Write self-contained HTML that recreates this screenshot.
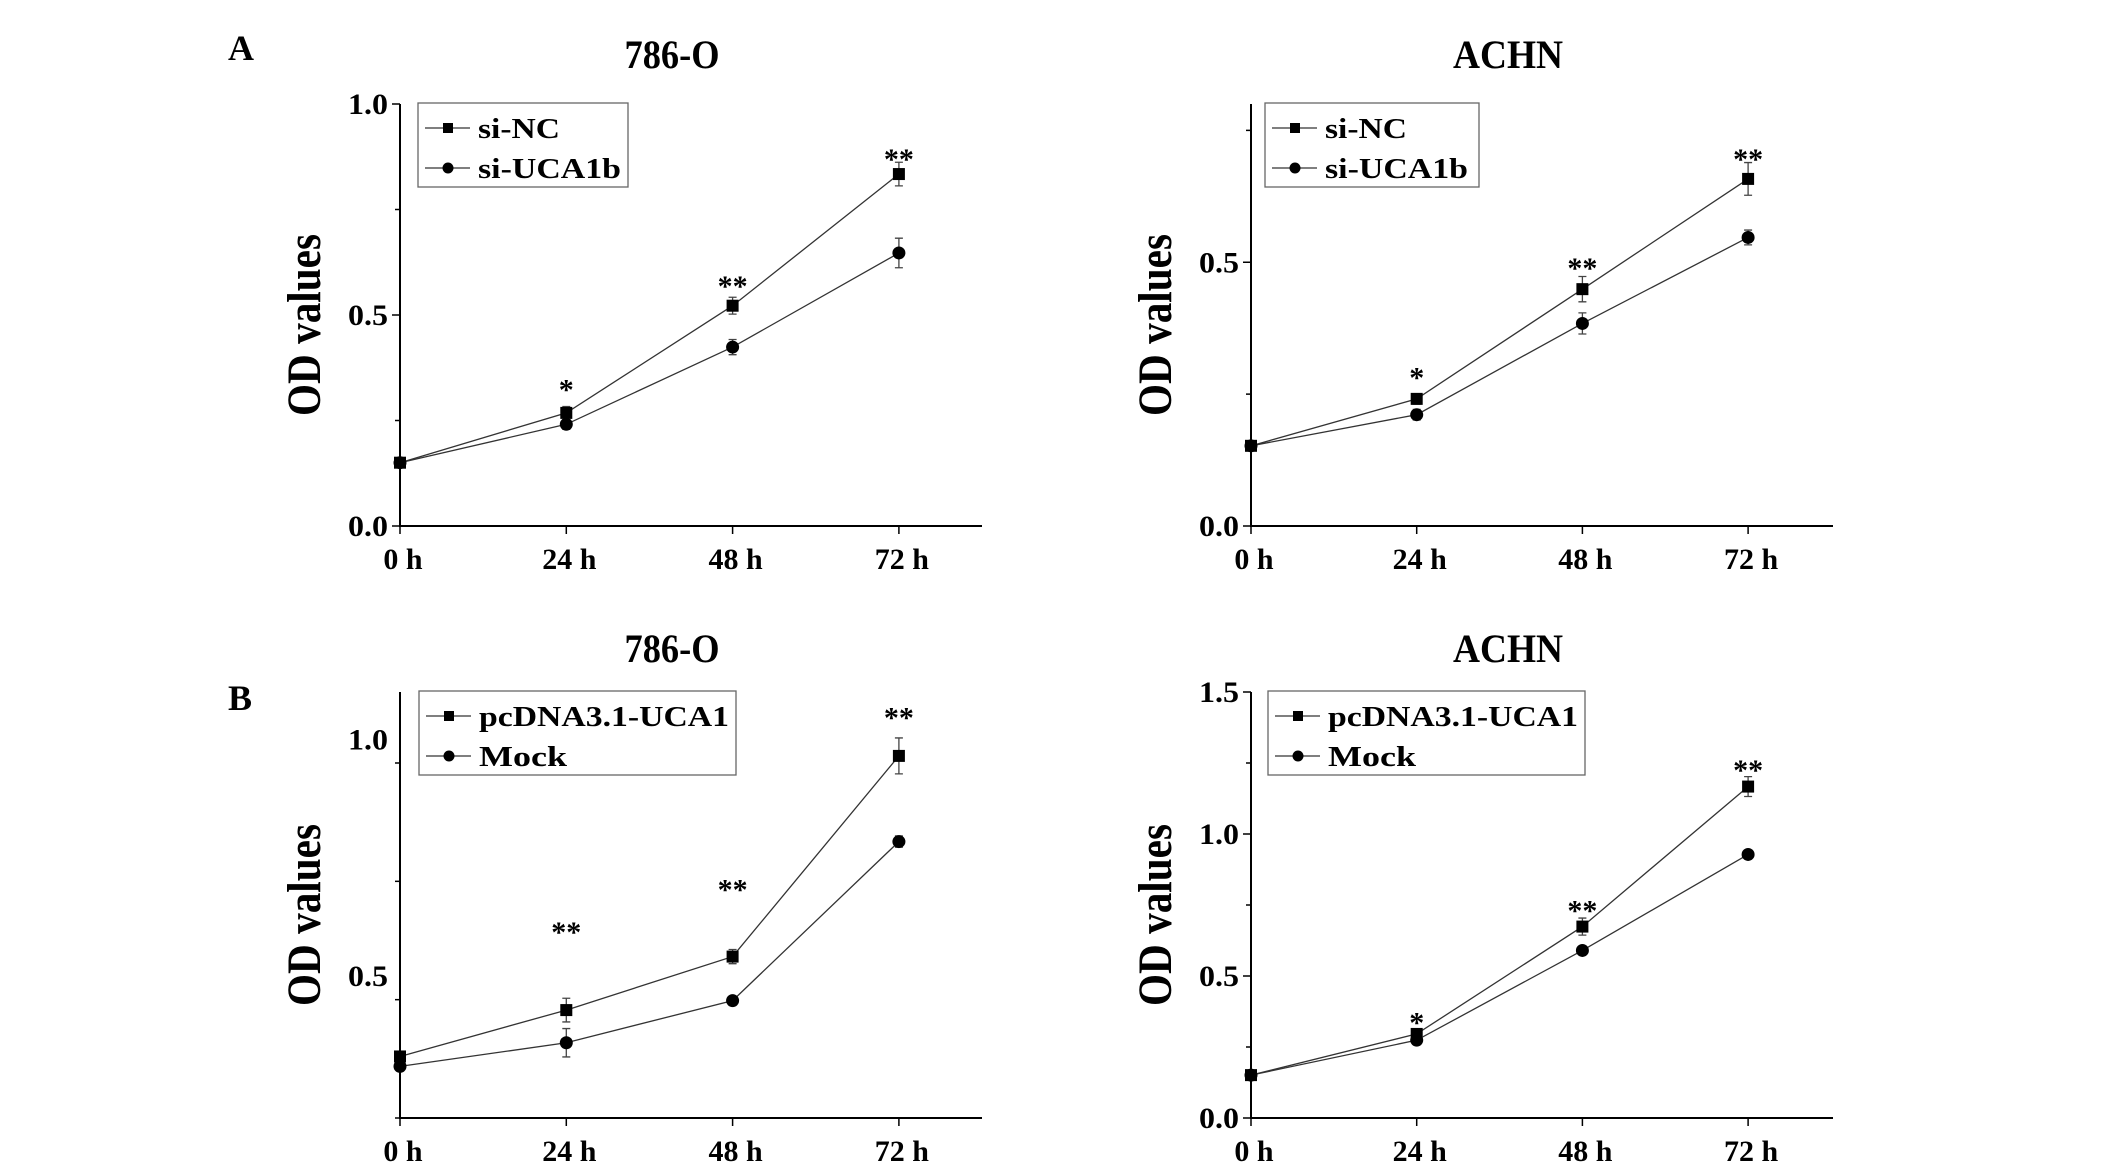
<!DOCTYPE html>
<html><head><meta charset="utf-8"><style>
html,body{margin:0;padding:0;background:#fff;}
svg{display:block;font-family:"Liberation Serif",serif;font-weight:bold;}
</style></head><body>
<svg id="fig" width="2126" height="1171" viewBox="0 0 2126 1171" xmlns="http://www.w3.org/2000/svg"></svg>
<script>
// ---- data ----
const timeLabels = ["0 h","24 h","48 h","72 h"];
// Panel A 786-O
const a1Names = ["si-NC","si-UCA1b"];
const a1S1 = [0.15,0.268,0.522,0.834];
const a1E1 = [0.005,0.015,0.02,0.028];
const a1S2 = [0.15,0.241,0.424,0.647];
const a1E2 = [0.005,0.012,0.018,0.035];
const a1Stars = ["","*","**","**"];
const a1StarY = [0,0.333,0.578,0.879];
const a1Ticks = [0,0.5,1.0];
// Panel A ACHN
const a2Names = ["si-NC","si-UCA1b"];
const a2S1 = [0.152,0.241,0.449,0.658];
const a2E1 = [0.004,0.01,0.024,0.031];
const a2S2 = [0.152,0.211,0.384,0.547];
const a2E2 = [0.004,0.01,0.02,0.014];
const a2Stars = ["","*","**","**"];
const a2StarY = [0,0.289,0.497,0.703];
const a2Ticks = [0,0.5];
// Panel B 786-O
const b1Names = ["pcDNA3.1-UCA1","Mock"];
const b1S1 = [0.33,0.428,0.541,0.965];
const b1E1 = [0.008,0.025,0.015,0.038];
const b1S2 = [0.309,0.359,0.448,0.784];
const b1E2 = [0.008,0.03,0.006,0.012];
const b1Stars = ["","**","**","**"];
const b1StarY = [0,0.601,0.691,1.055];
const b1Ticks = [0.5,1.0];
// Panel B ACHN
const b2Names = ["pcDNA3.1-UCA1","Mock"];
const b2S1 = [0.151,0.296,0.674,1.167];
const b2E1 = [0.005,0.012,0.03,0.035];
const b2S2 = [0.151,0.274,0.59,0.928];
const b2E2 = [0.005,0.008,0.01,0.01];
const b2Stars = ["","*","**","**"];
const b2StarY = [0,0.351,0.745,1.239];
const b2Ticks = [0,0.5,1.0,1.5];

const NS="http://www.w3.org/2000/svg";
const svg=document.getElementById('fig');
function mk(tag,attrs,parent){const e=document.createElementNS(NS,tag);for(const k in attrs)e.setAttribute(k,attrs[k]);(parent||svg).appendChild(e);return e;}

function panel(p){
  const g=mk('g',{});
  
  
  const y=v=>p.y0-(v-p.vmin)/(p.vmax-p.vmin)*(p.y0-p.yTop);
  const x=i=>p.xs[0]+i*(p.xs[1]-p.xs[0]);
  const t=mk('text',{x:p.titleX,y:p.titleY,'font-size':40,'text-anchor':'middle',textLength:p.titleW,lengthAdjust:'spacingAndGlyphs'},g);
  t.textContent=p.title;
  
  
  const ax=mk('path',{d:`M${p.xs[0]} ${p.yTop}V${p.y0}H${p.xEnd}`,stroke:'#000','stroke-width':2,fill:'none'},g);
  
  
  for(let v=p.vmin;v<=p.vmax+1e-9;v+=0.25){
    const vv=Math.round(v*100)/100;
    const major=p.ticks.some(tk=>Math.abs(tk-vv)<1e-6);
    mk('line',{x1:p.xs[0]-(major?8:5),x2:p.xs[0],y1:y(vv),y2:y(vv),stroke:'#000','stroke-width':1.5},g);
  }
  p.ticks.forEach(tk=>{
    const tl=mk('text',{x:p.xs[0]-12,y:y(tk)+10,'font-size':30,'text-anchor':'end',textLength:40,lengthAdjust:'spacingAndGlyphs'},g);
    tl.textContent=tk.toFixed(1);
    
    
  });
  timeLabels.forEach((lb,i)=>{
    mk('line',{x1:x(i),x2:x(i),y1:p.y0,y2:p.y0+8,stroke:'#000','stroke-width':1.5},g);
    const tl=mk('text',{x:x(i)+3,y:p.y0+43,'font-size':30,'text-anchor':'middle'},g);
    tl.textContent=lb;
    
    
  });
  const yl=mk('text',{x:0,y:0,'font-size':48,'text-anchor':'middle',transform:`translate(${p.xs[0]-80},${(p.yTop+p.y0)/2+10}) rotate(-90)`,textLength:182,lengthAdjust:'spacingAndGlyphs'},g);
  yl.textContent="OD values";
  
  
  [[p.s1,p.e1,'sq'],[p.s2,p.e2,'ci']].forEach(([s,e,m],si)=>{
    const ln=mk('polyline',{points:s.map((v,i)=>x(i)+','+y(v)).join(' '),fill:'none',stroke:'#333','stroke-width':1.3},g);
    
    
    s.forEach((v,i)=>{
      const cx=x(i),yt=y(v+e[i]),yb=y(v-e[i]);
      mk('path',{d:`M${cx} ${yt}V${yb}M${cx-4} ${yt}H${cx+4}M${cx-4} ${yb}H${cx+4}`,stroke:'#444','stroke-width':1.3,fill:'none'},g);
      let mark;
      if(m==='sq') mark=mk('rect',{x:cx-6,y:y(v)-6,width:12,height:12,fill:'#000'},g);
      else mark=mk('circle',{cx:cx,cy:y(v),r:6.5,fill:'#000'},g);
      
      
    });
  });
  p.stars.forEach((st,i)=>{
    if(!st)return;
    const s=mk('text',{x:x(i),y:y(p.starY[i])+14,'font-size':30,'text-anchor':'middle'},g);
    s.textContent=st;
    
    
  });
  const L=p.leg;
  const lg=mk('g',{},g);
  
  
  mk('rect',{x:L.x,y:L.y,width:L.w,height:L.h,fill:'#fff',stroke:'#666','stroke-width':1.3},lg);
  p.names.forEach((nm,k)=>{
    const ry=L.y+(k===0?25:65);
    mk('line',{x1:L.x+7,x2:L.x+52,y1:ry,y2:ry,stroke:'#333','stroke-width':1.3},lg);
    if(k===0) mk('rect',{x:L.x+25,y:ry-5,width:10,height:10,fill:'#000'},lg);
    else mk('circle',{cx:L.x+30,cy:ry,r:5.5,fill:'#000'},lg);
    const tx=mk('text',{x:L.x+60,y:ry+10,'font-size':29,textLength:L.tw[k],lengthAdjust:'spacingAndGlyphs'},lg);
    tx.textContent=nm;
    
    
  });
}

panel({id:'panel-a-786o',title:'786-O',titleX:672,titleY:68,titleW:95,xs:[400,566.3],xEnd:982,y0:526,yTop:104,vmin:0,vmax:1.0,ticks:a1Ticks,
  s1:a1S1,e1:a1E1,s2:a1S2,e2:a1E2,stars:a1Stars,starY:a1StarY,names:a1Names,leg:{x:418,y:103,w:210,h:84,tw:[82,143]}});
panel({id:'panel-a-achn',title:'ACHN',titleX:1508,titleY:68,titleW:110,xs:[1251,1416.7],xEnd:1833,y0:526,yTop:104,vmin:0,vmax:0.8,ticks:a2Ticks,
  s1:a2S1,e1:a2E1,s2:a2S2,e2:a2E2,stars:a2Stars,starY:a2StarY,names:a2Names,leg:{x:1265,y:103,w:214,h:84,tw:[82,143]}});
panel({id:'panel-b-786o',title:'786-O',titleX:672,titleY:662,titleW:95,xs:[400,566.3],xEnd:982,y0:1118,yTop:692,vmin:0.2,vmax:1.1,ticks:b1Ticks,
  s1:b1S1,e1:b1E1,s2:b1S2,e2:b1E2,stars:b1Stars,starY:b1StarY,names:b1Names,leg:{x:419,y:691,w:317,h:84,tw:[250,88]}});
panel({id:'panel-b-achn',title:'ACHN',titleX:1508,titleY:662,titleW:110,xs:[1251,1416.7],xEnd:1833,y0:1118,yTop:692,vmin:0,vmax:1.5,ticks:b2Ticks,
  s1:b2S1,e1:b2E1,s2:b2S2,e2:b2E2,stars:b2Stars,starY:b2StarY,names:b2Names,leg:{x:1268,y:691,w:317,h:84,tw:[250,88]}});

const la=mk('text',{x:228,y:60,'font-size':36});
la.textContent='A';


const lb=mk('text',{x:228,y:710,'font-size':36});
lb.textContent='B';


</script>
</body></html>
